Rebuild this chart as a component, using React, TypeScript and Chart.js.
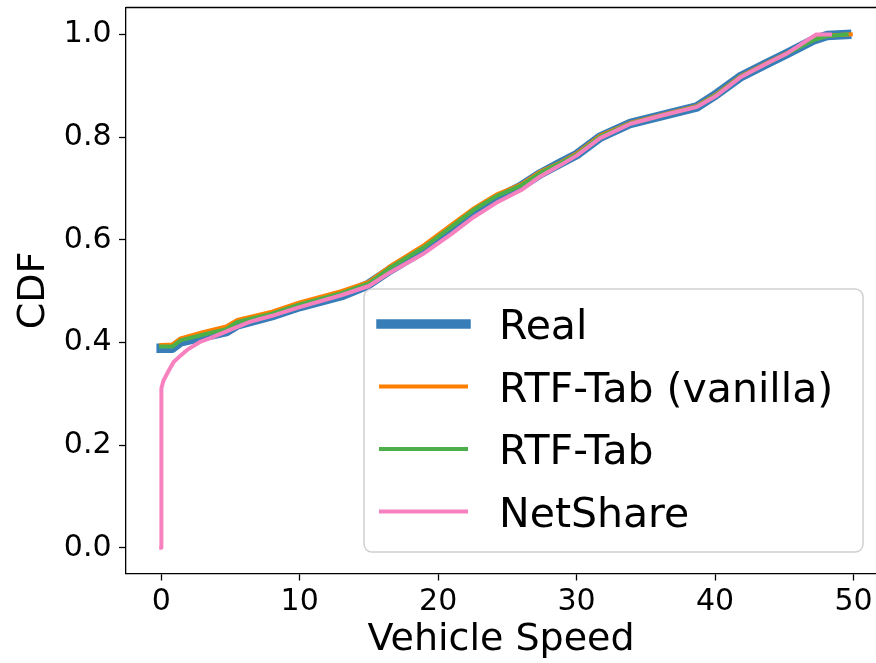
import React, { useEffect, useRef } from "react";
import { Chart, registerables } from "chart.js";

Chart.register(...registerables);

// ---- data ----
const seriesNames = ["Real", "RTF-Tab (vanilla)", "RTF-Tab", "NetShare"];
const seriesColors = ["#377eb8", "#ff7f00", "#4daf4a", "#f781bf"];
const seriesWidths = [9.5, 4, 4, 4];

const realX = [0, 0.8, 1.4, 3.0, 4.7, 5.5, 8.0, 10.0, 13.0, 14.9, 16.5, 18.9, 20.9, 22.5, 24.2, 25.9, 27.4, 28.8, 30.0, 31.7, 33.9, 36.3, 38.7, 39.9, 41.8, 43.7, 45.2, 47.1, 48.1, 49.5];
const realY = [0.389, 0.389, 0.401, 0.411, 0.421, 0.434, 0.452, 0.470, 0.491, 0.512, 0.541, 0.580, 0.619, 0.651, 0.680, 0.703, 0.729, 0.749, 0.766, 0.800, 0.827, 0.843, 0.859, 0.880, 0.917, 0.943, 0.963, 0.989, 0.998, 1.0];

const vanillaX = [0, 0.8, 1.4, 3.0, 4.7, 5.5, 8.0, 10.0, 13.0, 15.0, 16.5, 19.0, 21.0, 22.5, 24.2, 26.0, 27.4, 28.8, 30.0, 31.7, 33.9, 36.3, 38.7, 40.0, 41.8, 43.7, 45.2, 47.1, 48.1, 49.8];
const vanillaY = [0.395, 0.396, 0.408, 0.420, 0.431, 0.444, 0.460, 0.478, 0.500, 0.518, 0.548, 0.590, 0.630, 0.660, 0.688, 0.708, 0.733, 0.750, 0.768, 0.803, 0.828, 0.844, 0.861, 0.882, 0.918, 0.944, 0.964, 0.990, 0.998, 1.0];

const rtfX = [0, 0.8, 1.4, 3.0, 4.7, 5.5, 8.0, 10.0, 13.0, 15.0, 16.5, 19.0, 21.0, 22.5, 24.2, 26.0, 27.4, 28.8, 30.0, 31.7, 33.9, 36.3, 38.7, 40.0, 41.8, 43.7, 45.2, 47.1, 48.1, 49.5];
const rtfY = [0.392, 0.392, 0.404, 0.415, 0.426, 0.440, 0.456, 0.474, 0.496, 0.515, 0.545, 0.586, 0.626, 0.657, 0.685, 0.706, 0.731, 0.749, 0.766, 0.801, 0.827, 0.843, 0.860, 0.881, 0.917, 0.943, 0.963, 0.989, 0.997, 1.0];

const netX = [0, 0, 0.03, 0.17, 0.5, 0.9, 1.3, 1.9, 2.8, 3.5, 5.2, 6.4, 8.0, 10.0, 13.0, 15.0, 16.5, 19.0, 21.0, 22.5, 24.2, 26.0, 27.4, 28.8, 30.0, 31.7, 33.9, 36.3, 38.7, 40.0, 41.8, 43.7, 45.2, 47.3, 48.3];
const netY = [0, 0.25, 0.311, 0.326, 0.343, 0.362, 0.372, 0.386, 0.401, 0.408, 0.427, 0.440, 0.452, 0.469, 0.492, 0.510, 0.536, 0.574, 0.612, 0.643, 0.672, 0.697, 0.724, 0.745, 0.764, 0.798, 0.826, 0.843, 0.859, 0.879, 0.916, 0.943, 0.963, 1.0, 1.0];

const seriesX = [realX, vanillaX, rtfX, netX];
const seriesY = [realY, vanillaY, rtfY, netY];

const xTicks = [0, 10, 20, 30, 40, 50];
const yTicks = [0.0, 0.2, 0.4, 0.6, 0.8, 1.0];
const xTitle = "Vehicle Speed";
const yTitle = "CDF";

const FONT = "'DejaVu Sans', sans-serif";

const framePlugin = {
  id: "frameAndLegend",
  afterDraw(chart: any) {
    const { ctx, chartArea } = chart;
    ctx.save();
    // top spine
    ctx.strokeStyle = "#000";
    ctx.lineWidth = 1.3;
    ctx.beginPath();
    ctx.moveTo(chartArea.left, chartArea.top);
    ctx.lineTo(chartArea.right, chartArea.top);
    ctx.stroke();

    // legend
    const bx = 364, by = 289, bw = 499, bh = 263, r = 8;
    ctx.beginPath();
    ctx.moveTo(bx + r, by);
    ctx.lineTo(bx + bw - r, by);
    ctx.arcTo(bx + bw, by, bx + bw, by + r, r);
    ctx.lineTo(bx + bw, by + bh - r);
    ctx.arcTo(bx + bw, by + bh, bx + bw - r, by + bh, r);
    ctx.lineTo(bx + r, by + bh);
    ctx.arcTo(bx, by + bh, bx, by + bh - r, r);
    ctx.lineTo(bx, by + r);
    ctx.arcTo(bx, by, bx + r, by, r);
    ctx.closePath();
    ctx.fillStyle = "rgba(255,255,255,0.8)";
    ctx.fill();
    ctx.strokeStyle = "#d0d0d0";
    ctx.lineWidth = 1.5;
    ctx.stroke();

    const rows = [324, 386.5, 449, 511.5];
    ctx.font = `41px ${FONT}`;
    ctx.textBaseline = "alphabetic";
    ctx.textAlign = "left";
    chart.data.datasets.forEach((ds: any, i: number) => {
      const y = rows[i];
      ctx.strokeStyle = ds.borderColor;
      ctx.lineWidth = ds.borderWidth;
      ctx.lineCap = "square";
      ctx.beginPath();
      ctx.moveTo(381, y);
      ctx.lineTo(466, y);
      ctx.stroke();
      ctx.fillStyle = "#000";
      ctx.fillText(ds.label, 499, y + 15);
    });
    ctx.restore();
  },
};

export default function App() {
  const ref = useRef<HTMLCanvasElement>(null);
  useEffect(() => {
    if (!ref.current) return;
    const datasets = seriesNames.map((name, i) => ({
      label: name,
      data: seriesX[i].map((x, j) => ({ x, y: seriesY[i][j] })),
      borderColor: seriesColors[i],
      backgroundColor: seriesColors[i],
      borderWidth: seriesWidths[i],
      borderCapStyle: "square" as const,
      borderJoinStyle: "round" as const,
      pointRadius: 0,
      tension: 0,
      fill: false,
      order: seriesNames.length - i,
    }));
    const chart = new Chart(ref.current, {
      type: "line",
      data: { datasets },
      plugins: [framePlugin],
      options: {
        animation: false,
        responsive: false,
        maintainAspectRatio: false,
        layout: { padding: { top: 7.5, left: 0, right: 0, bottom: 0 } },
        plugins: { legend: { display: false }, tooltip: { enabled: false } },
        scales: {
          x: {
            type: "linear",
            min: -2.54,
            max: 51.62,
            afterBuildTicks: (s: any) => {
              s.ticks = xTicks.map((v) => ({ value: v }));
            },
            afterFit: (s: any) => {
              s.height = 89.5;
              s.paddingLeft = 0;
              s.paddingRight = 0;
              s.paddingTop = 0;
              s.paddingBottom = 0;
            },
            grid: { drawOnChartArea: false, drawTicks: true, tickLength: 7, tickWidth: 1.3, tickColor: "#000" },
            border: { display: true, color: "#000", width: 1.3 },
            ticks: {
              color: "#000",
              font: { family: FONT, size: 30 },
              padding: 3.5,
              maxRotation: 0,
              autoSkip: false,
              callback: (v: any) => String(v),
            },
            title: {
              display: true,
              text: xTitle,
              color: "#000",
              font: { family: FONT, size: 38 },
              padding: { top: 0, bottom: 0 },
            },
          },
          y: {
            type: "linear",
            min: -0.05,
            max: 1.0525,
            afterBuildTicks: (s: any) => {
              s.ticks = yTicks.map((v) => ({ value: v }));
            },
            afterFit: (s: any) => {
              s.width = 126;
              s.paddingLeft = 0;
              s.paddingRight = 0;
              s.paddingTop = 0;
              s.paddingBottom = 0;
            },
            grid: { drawOnChartArea: false, drawTicks: true, tickLength: 7, tickWidth: 1.3, tickColor: "#000" },
            border: { display: true, color: "#000", width: 1.3 },
            ticks: {
              color: "#000",
              font: { family: FONT, size: 30 },
              padding: 7.5,
              autoSkip: false,
              callback: (v: any) => Number(v).toFixed(1),
            },
            title: {
              display: true,
              text: yTitle,
              color: "#000",
              font: { family: FONT, size: 38 },
              padding: { top: 11, bottom: 0 },
            },
          },
        },
      },
    });
    return () => chart.destroy();
  }, []);
  return (
    <div style={{ position: "fixed", left: 0, top: 0, width: 876, height: 663, background: "#fff" }}>
      <canvas ref={ref} width={876} height={663} style={{ display: "block" }} />
    </div>
  );
}
